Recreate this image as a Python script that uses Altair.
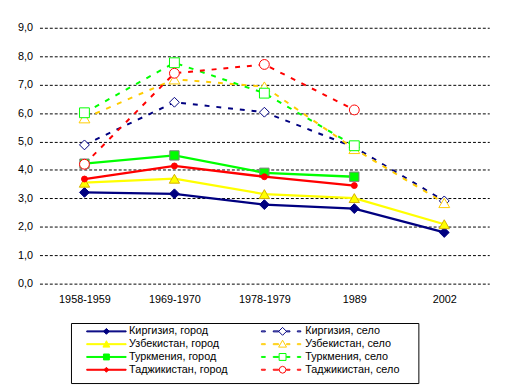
import altair as alt
import pandas as pd

FONT = "Liberation Sans"

periods = ["1958-1959", "1969-1970", "1978-1979", "1989", "2002"]
countries = ["Киргизия", "Узбекистан", "Туркмения", "Таджикистан"]

city_kirg = [3.21, 3.16, 2.78, 2.64, 1.80]
city_uzb = [3.55, 3.69, 3.15, 3.01, 2.09]
city_turk = [4.22, 4.51, 3.90, 3.76, None]
city_tadj = [3.68, 4.14, 3.76, 3.45, None]

rural_kirg = [4.88, 6.38, 6.03, 4.80, 2.91]
rural_uzb = [5.82, 7.19, 6.93, 4.74, 2.84]
rural_turk = [6.01, 7.77, 6.70, 4.85, None]
rural_tadj = [4.20, 7.40, 7.71, 6.11, None]

city_values = [city_kirg, city_uzb, city_turk, city_tadj]
rural_values = [rural_kirg, rural_uzb, rural_turk, rural_tadj]

city_names = [c + ", город" for c in countries]
rural_names = [c + ", село" for c in countries]

city_colors = ["#000080", "#FFFF00", "#00FF00", "#FF0000"]
rural_colors = ["#000080", "#FFCC00", "#00FF00", "#FF0000"]
city_outlines = ["#000080", "#D4B000", "#808080", "#FF0000"]

# ---- long table
rows = []
for name, vals in zip(city_names + rural_names, city_values + rural_values):
    for p, v in zip(periods, vals):
        if v is not None:
            rows.append({"period": p, "value": v, "series": name})
df = pd.DataFrame(rows)

# legend order: column-major (city column, then rural column)
order = city_names + rural_names
order_colors = city_colors + rural_colors
order_fills = city_colors + ["#FFFFFF"] * 4

# ---- legend symbols (custom paths, pixel units at symbolSize 4)
row_bottom = [4.5, 4.5, 4.5, 8.3]
city_ext = ["M-33,-4M141.5,%s" % b for b in row_bottom]
rural_ext = ["M-33,-4M132.5,%s" % b for b in row_bottom]
city_line = "M-20,-0.5H20V0.5H-20Z"
rural_line = ("M-21.5,-0.5H-17.5V0.5H-21.5Z"
              "M-9.5,-0.5H-4V0.5H-9.5Z"
              "M4,-0.5H7.5V0.5H4Z"
              "M15,-0.5H18.5V0.5H15Z")
city_markers = [
    "M0,-3L3,0L0,3L-3,0Z",
    "M0,-3.5L3.5,3L-3.5,3Z",
    "M-3,-3H3V3H-3Z",
    "M0,-2.5L2.5,0L0,2.5L-2.5,0Z",
]
rural_markers = [
    "M0,-4L4,0L0,4L-4,0Z",
    "M0,-4L4,3L-4,3Z",
    "M-3.5,-3.5H3.5V3.5H-3.5Z",
    "M0,-3.5L2.5,-2.5L3.5,0L2.5,2.5L0,3.5L-2.5,2.5L-3.5,0L-2.5,-2.5Z",
]
legend_paths = ([e + city_line + m for e, m in zip(city_ext, city_markers)]
                + [e + rural_line + m for e, m in zip(rural_ext, rural_markers)])

vega_shapes = ["diamond", "triangle-up", "square", "circle"]
city_sizes = [100, 110, 90, 36]
rural_sizes = [100, 121, 100, 100]

color_scale = alt.Scale(domain=order, range=order_colors)

x_enc = alt.X(
    "period:N", sort=periods, scale=alt.Scale(domain=periods),
    axis=alt.Axis(title=None, labelAngle=0, domain=False, ticks=False,
                  grid=False, labelPadding=10, labelFont=FONT,
                  labelFontSize=11, labelColor="#000000"),
)
y_enc = alt.Y(
    "value:Q", scale=alt.Scale(domain=[0, 9], nice=False, zero=True),
    axis=alt.Axis(title=None, values=list(range(10)), domain=False,
                  ticks=False, tickSize=0, labelPadding=7, grid=True,
                  gridColor="#000000", gridDash=[3, 2], gridWidth=1,
                  labelExpr="replace(format(datum.value, '.1f'), '.', ',')",
                  labelFont=FONT, labelFontSize=11, labelColor="#000000"),
)

legend = alt.Legend(
    title=None, orient="none", legendX=32, legendY=300, columns=2,
    columnPadding=0, rowPadding=0, padding=3, strokeColor="#000000",
    symbolSize=4, symbolStrokeWidth=1, symbolOffset=27.5,
    labelFont=FONT, labelFontSize=11,
    labelColor="#000000", labelOffset=17.5, labelLimit=300,
)

base = alt.Chart(df)

legend_layer = base.transform_filter("datum.value > 100").mark_point(
    opacity=1, strokeWidth=1
).encode(
    x=x_enc, y=y_enc,
    shape=alt.Shape("series:N", scale=alt.Scale(domain=order, range=legend_paths), legend=legend),
    stroke=alt.Stroke("series:N", scale=alt.Scale(domain=order, range=order_colors), legend=legend),
    fill=alt.Fill("series:N", scale=alt.Scale(domain=order, range=order_fills), legend=legend),
)

layers = [legend_layer]
for i in range(4):
    name = city_names[i]
    sub = base.transform_filter(alt.datum.series == name)
    layers.append(sub.mark_line(strokeWidth=2.3).encode(
        x=x_enc, y=y_enc, color=alt.Color("series:N", scale=color_scale, legend=None)))
    layers.append(sub.mark_point(shape=vega_shapes[i], filled=True, opacity=1,
                                 stroke=city_outlines[i], strokeWidth=1,
                                 size=city_sizes[i]).encode(
        x=x_enc, y=y_enc, color=alt.Color("series:N", scale=color_scale, legend=None)))
for i in range(4):
    name = rural_names[i]
    sub = base.transform_filter(alt.datum.series == name)
    layers.append(sub.mark_line(strokeWidth=2, strokeDash=[5, 7]).encode(
        x=x_enc, y=y_enc, color=alt.Color("series:N", scale=color_scale, legend=None)))
    layers.append(sub.mark_point(shape=vega_shapes[i], filled=False, fill="#FFFFFF",
                                 opacity=1, strokeWidth=1,
                                 size=rural_sizes[i]).encode(
        x=x_enc, y=y_enc, color=alt.Color("series:N", scale=color_scale, legend=None)))

chart = alt.layer(*layers).properties(
    width=457, height=260,
    autosize=alt.AutoSizeParams(type="none"),
    padding={"left": 32, "top": 17, "right": 15, "bottom": 106},
    background="#FFFFFF",
).configure_view(stroke=None).configure_legend(strokeColor="#000000", strokeWidth=1)

chart.save("out.html", embed_options={"renderer": "svg", "actions": False})
